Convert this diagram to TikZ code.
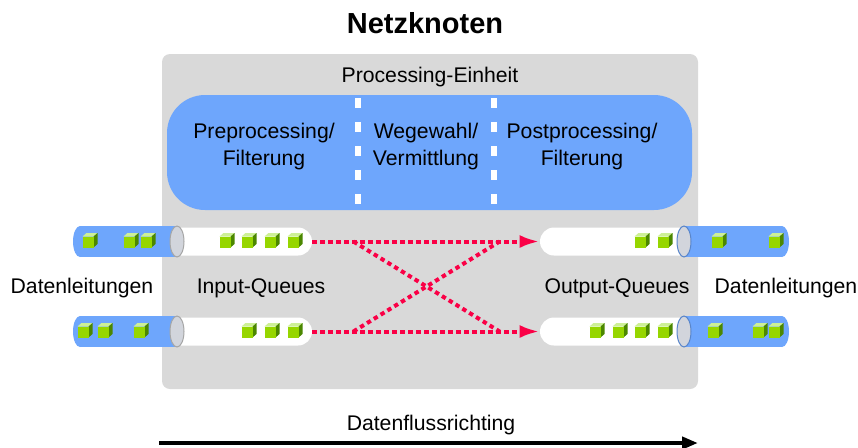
\documentclass[tikz,border=0pt]{standalone}
\usepackage{fontspec}
\setmainfont{Liberation Sans}
\usepackage{xcolor}
\usepackage{tikz}
\usetikzlibrary{arrows.meta}
\definecolor{knotengrau}{RGB}{217,217,217}
\definecolor{einheitblau}{RGB}{110,166,252}
\definecolor{flussrot}{RGB}{250,0,70}
\definecolor{paketgruen}{RGB}{150,214,0}
\definecolor{paketdunkel}{RGB}{75,135,0}
\definecolor{paketlicht}{RGB}{205,240,150}
\definecolor{deckelgrau}{RGB}{210,213,220}

% a data packet (small cube), front centred at (#1,#2)
\newcommand{\paket}[2]{%
  \fill[paketlicht] (#1-5.5,#2-5.5) -- ++(4,-3.5) -- ++(11,0) -- ++(-4,3.5) -- cycle;
  \fill[paketdunkel] (#1+5.5,#2-5.5) -- ++(4,-3.5) -- ++(0,11) -- ++(-4,3.5) -- cycle;
  \fill[paketgruen] (#1-5.5,#2-5.5) rectangle (#1+5.5,#2+5.5);}

\begin{document}
\begin{tikzpicture}[x=0.5pt,y=-0.5pt,
    every node/.style={font=\fontsize{10.6}{13.5}\selectfont,inner sep=0pt},
    queue/.style={fill=white,rounded corners=7pt,minimum height=14pt},
    flow/.style={flussrot,line width=2pt,dash pattern=on 2.2pt off 1.8pt},
    deckel/.style={fill=deckelgrau,draw=#1,line width=0.5pt}]
  \useasboundingbox (0,0) rectangle (858,447);

  % Netzknoten
  \fill[knotengrau,rounded corners=4pt] (162,54) rectangle (698,389);
  \node[anchor=base,font=\fontsize{14.5}{17}\selectfont\bfseries] (titel) at (425,33) {Netzknoten};
  \node[anchor=base] (einheit) at (430,82) {Processing-Einheit};

  % Processing-Einheit
  \fill[einheitblau,rounded corners=19pt] (167,95) rectangle (692,210);
  \draw[white,line width=3pt,dash pattern=on 5pt off 7pt] (358,98) -- (358,210);
  \draw[white,line width=3pt,dash pattern=on 5pt off 7pt] (494,98) -- (494,210);
  \node[align=center] (pre) at (264,147) {Preprocessing/\\Filterung};
  \node[align=center] (wege) at (426,147) {Wegewahl/\\Vermittlung};
  \node[align=center] (post) at (582,147) {Postprocessing/\\Filterung};

  % Queues
  \node[queue,minimum width=74.5pt] (in1) at (237.5,241.5) {};
  \node[queue,minimum width=74.5pt] (in2) at (237.5,331.5) {};
  \node[queue,minimum width=79pt] (out1) at (619,241.5) {};
  \node[queue,minimum width=79pt] (out2) at (619,331.5) {};

  % Datenleitungen
  \foreach \py in {241.5,331.5} {
    \fill[einheitblau] (80,\py-15.5) rectangle (177,\py+15.5);
    \fill[einheitblau] (80,\py) ellipse[x radius=3.5pt,y radius=7.75pt];
    \path[deckel=gray!70] (177,\py) ellipse[x radius=3.5pt,y radius=7.75pt];
    \fill[einheitblau] (684,\py-15.5) rectangle (782,\py+15.5);
    \fill[einheitblau] (782,\py) ellipse[x radius=3.5pt,y radius=7.75pt];
    \path[deckel=einheitblau!80!black] (684,\py) ellipse[x radius=3.5pt,y radius=7.75pt];
  }

  % Pakete
  \foreach \px in {88,129,146,225,247,270,293,640,663,717,774} \paket{\px}{242};
  \foreach \px in {83,103,139,247,270,293,595,618,640,663,713,758,774} \paket{\px}{332};

  % Vermittlung
  \draw[flow,-{Latex[length=10pt,width=6.5pt]}] (in1.east) -- (out1.west);
  \draw[flow,-{Latex[length=10pt,width=6.5pt]}] (in2.east) -- (out2.west);
  \draw[flow] ([xshift=20.5pt]in1.east) -- ([xshift=-20pt]out2.west);
  \draw[flow] ([xshift=20.5pt]in2.east) -- ([xshift=-20pt]out1.west);

  % Beschriftung
  \node[anchor=base] (leitl) at (82,293) {Datenleitungen};
  \node[anchor=base] (inq) at (261,293) {Input-Queues};
  \node[anchor=base] (outq) at (617,293) {Output-Queues};
  \node[anchor=base] (leitr) at (786,293) {Datenleitungen};

  % Datenflussrichtung
  \node[anchor=base] (fluss) at (431,430) {Datenflussrichting};
  \coordinate (flussa) at (159,443);
  \coordinate (flussb) at (698,443);
  \draw[line width=2pt,-{Triangle[length=8pt,width=6pt]}] (flussa) -- (flussb);
\end{tikzpicture}
\end{document}
